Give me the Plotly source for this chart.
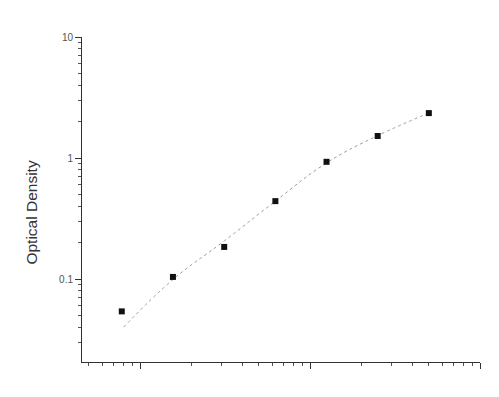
import plotly.graph_objects as go

# Standard concentrations and measured optical densities
conc = [0.78, 1.56, 3.125, 6.25, 12.5, 25, 50]
od = [0.054, 0.104, 0.184, 0.44, 0.93, 1.52, 2.35]

# Fitted curve
curve_x = [0.8, 1.56, 3.125, 6.25, 12.5, 25, 50]
curve_y = [0.040, 0.099, 0.206, 0.44, 0.91, 1.53, 2.35]

y_tickvals = [0.1, 1, 10]
y_ticktext = ["0.1", "1", "10"]
x_tickvals = [1, 10, 100]

fig = go.Figure()
fig.add_trace(go.Scatter(
    x=curve_x, y=curve_y, mode="lines",
    line=dict(color="#a0a0a0", width=1, dash="dot", shape="spline", smoothing=1.2),
    hoverinfo="skip", showlegend=False,
))
fig.add_trace(go.Scatter(
    x=conc, y=od, mode="markers",
    marker=dict(symbol="square", size=6, color="#111111"),
    showlegend=False,
))

fig.update_layout(
    width=499, height=397,
    margin=dict(l=82, r=19, t=37, b=35),
    paper_bgcolor="white", plot_bgcolor="white",
    font=dict(family="Liberation Sans, Arial, sans-serif", size=10, color="#444444"),
)
fig.add_annotation(
    text="Optical Density", textangle=-90,
    xref="paper", yref="paper", x=-0.128, y=0.46,
    xanchor="center", yanchor="middle", showarrow=False,
    font=dict(size=15.5, color="#333333"),
)
fig.update_xaxes(
    type="log", range=[-0.342, 2.0],
    showgrid=False, zeroline=False,
    showline=True, linecolor="#333333", linewidth=1,
    tickvals=x_tickvals, showticklabels=False,
    ticks="outside", ticklen=6, tickcolor="#333333", tickwidth=1,
    minor=dict(dtick="D1", ticks="outside", ticklen=3, tickcolor="#555555", showgrid=False),
)
fig.update_yaxes(
    type="log", range=[-1.686, 1.0],
    showgrid=False, zeroline=False,
    showline=True, linecolor="#333333", linewidth=1,
    tickvals=y_tickvals, ticktext=y_ticktext,
    ticks="outside", ticklen=6, tickcolor="#333333", tickwidth=1,
    tickfont=dict(size=10, color="#555555"),
    minor=dict(dtick="D1", ticks="outside", ticklen=3, tickcolor="#555555", showgrid=False),
)

fig.write_html("out.html")
